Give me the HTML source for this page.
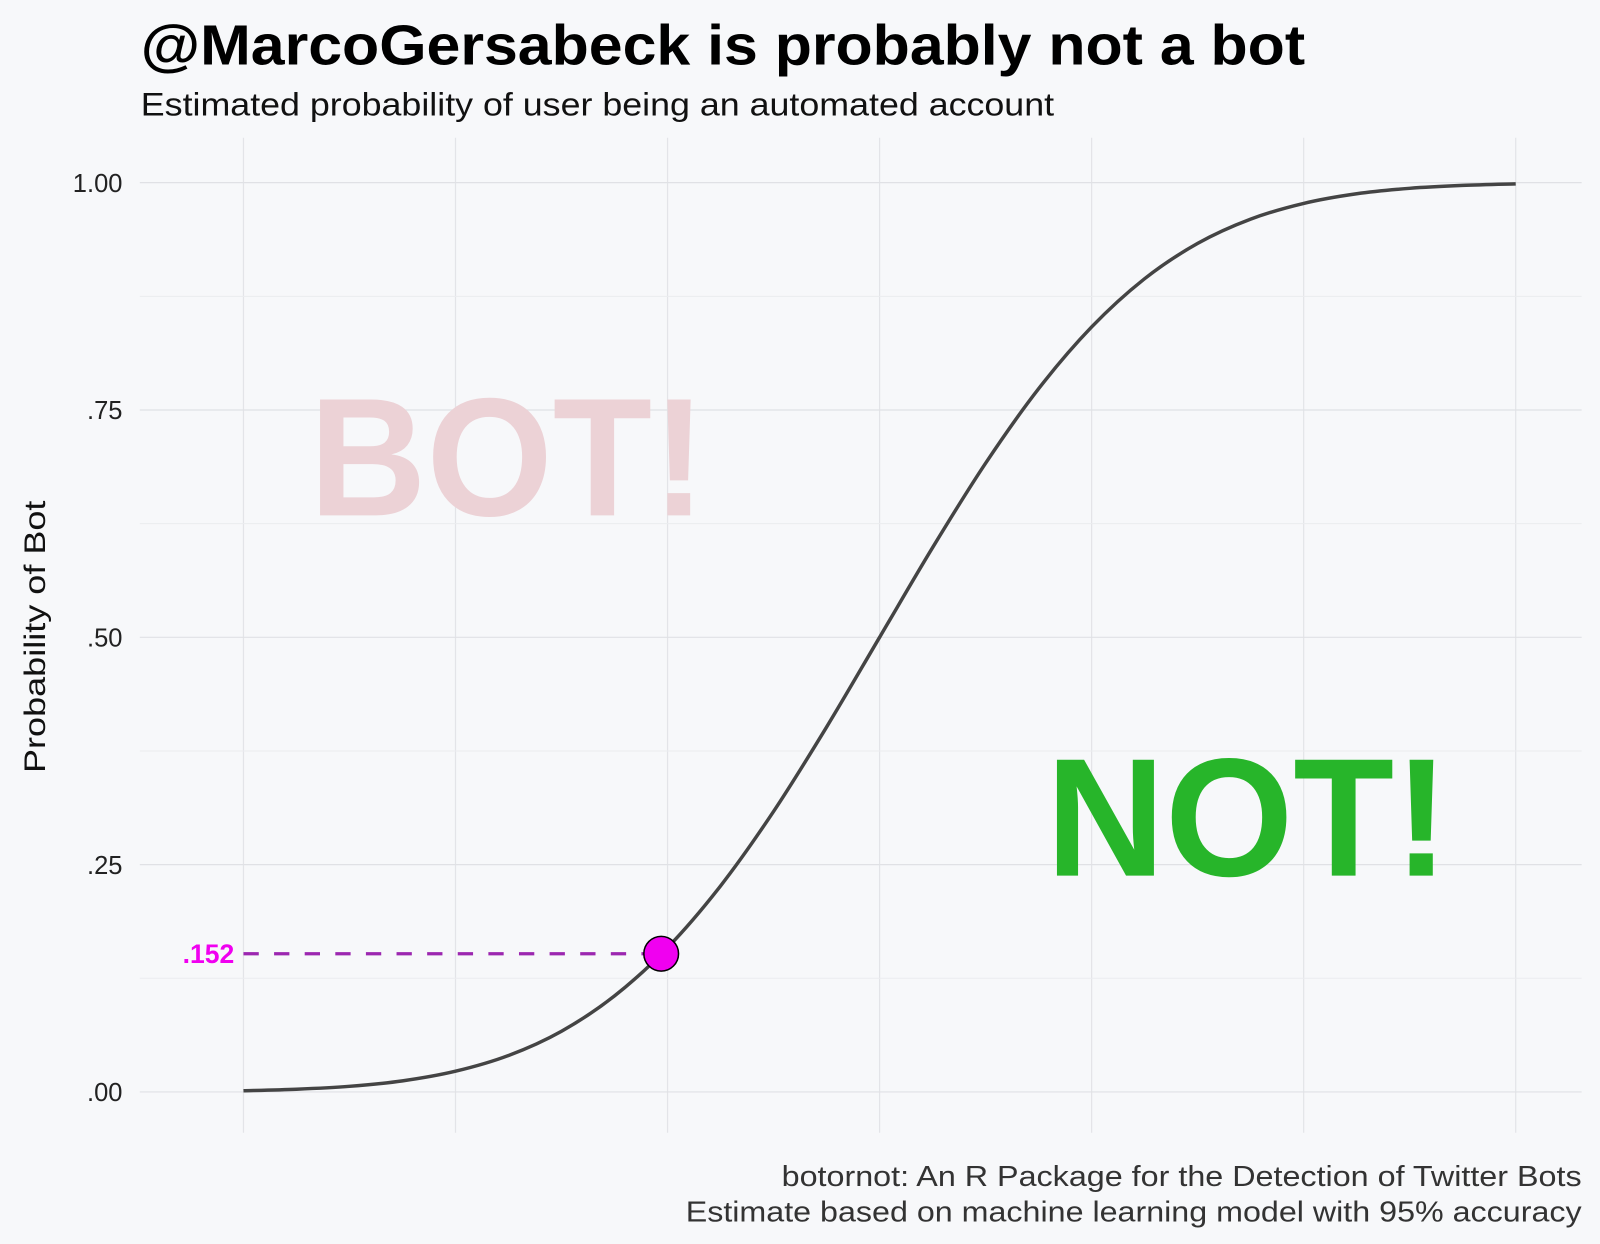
<!DOCTYPE html>
<html><head><meta charset="utf-8"><style>
html,body{margin:0;padding:0;background:#f7f8fa;}
svg{display:block;font-family:"Liberation Sans",Arial,sans-serif;}
</style></head><body>
<svg id="chart" width="1600" height="1244" viewBox="0 0 1568 1219" preserveAspectRatio="none">
<rect width="1568" height="1219" fill="#f7f8fa"/>
<g id="grid"></g>
<text x="138" y="63" font-size="55" font-weight="bold" fill="#000" textLength="1141" lengthAdjust="spacingAndGlyphs">@MarcoGersabeck is probably not a bot</text>
<text x="138" y="113" font-size="32" fill="#111" textLength="895" lengthAdjust="spacingAndGlyphs">Estimated probability of user being an automated account</text>
<text transform="translate(44,624) rotate(-90)" text-anchor="middle" font-size="29" fill="#111" textLength="267" lengthAdjust="spacingAndGlyphs">Probability of Bot</text>
<g id="yticks"></g>
<text x="303" y="505" font-size="165" font-weight="bold" fill="#ecd2d6" textLength="389" lengthAdjust="spacingAndGlyphs">BOT!</text>
<text x="1025" y="858" font-size="165" font-weight="bold" fill="#27b52a" textLength="395" lengthAdjust="spacingAndGlyphs">NOT!</text>
<g id="series"></g>
<text x="1550" y="1162" text-anchor="end" font-size="28" fill="#333" textLength="784" lengthAdjust="spacingAndGlyphs">botornot: An R Package for the Detection of Twitter Bots</text>
<text x="1550" y="1197" text-anchor="end" font-size="28" fill="#333" textLength="878" lengthAdjust="spacingAndGlyphs">Estimate based on machine learning model with 95% accuracy</text>
</svg>
<script>
const curveX = [-3,-2.75,-2.5,-2.25,-2,-1.75,-1.5,-1.25,-1,-0.75,-0.5,-0.25,0,0.25,0.5,0.75,1,1.25,1.5,1.75,2,2.25,2.5,2.75,3];
const curveY = [0.0013,0.0030,0.0062,0.0122,0.0228,0.0401,0.0668,0.1056,0.1587,0.2266,0.3085,0.4013,0.5,0.5987,0.6915,0.7734,0.8413,0.8944,0.9332,0.9599,0.9772,0.9878,0.9938,0.9970,0.9987];
const userX = [-1.03];
const userY = [0.152];
const userLabel = [".152"];
const yTicks = [0, 0.25, 0.5, 0.75, 1];
const yTickLabels = [".00", ".25", ".50", ".75", "1.00"];
const xGrid = [-3,-2,-1,0,1,2,3];

const NS = "http://www.w3.org/2000/svg";
const sx = v => 862 + v * 207.8;
const sy = v => 1070 - v * 891;
function mk(tag, attrs, parent){const e=document.createElementNS(NS,tag);for(const k in attrs)e.setAttribute(k,attrs[k]);parent.appendChild(e);return e;}
const grid=document.getElementById('grid'), yt=document.getElementById('yticks'), ser=document.getElementById('series');

xGrid.forEach(v=>{
  const l=mk('line',{x1:sx(v),x2:sx(v),y1:135,y2:1110,stroke:'#e3e4e8','stroke-width':1.2},grid);
  
  
});
for(let i=0;i<yTicks.length;i++){
  const l=mk('line',{x1:137,x2:1550,y1:sy(yTicks[i]),y2:sy(yTicks[i]),stroke:'#e0e1e5','stroke-width':1.2},grid);
  
  
  if(i<yTicks.length-1){
    const m=(yTicks[i]+yTicks[i+1])/2;
    const ml=mk('line',{x1:137,x2:1550,y1:sy(m),y2:sy(m),stroke:'#ebecef','stroke-width':1},grid);
    
    
  }
  const t=mk('text',{x:120,y:sy(yTicks[i])+9,'text-anchor':'end','font-size':25,fill:'#222'},yt);
  t.textContent=yTickLabels[i];
  
  
}
const pts=curveX.map((x,i)=>[sx(x),sy(curveY[i])]);
let d=`M${pts[0][0]},${pts[0][1]}`;
for(let i=0;i<pts.length-1;i++){
  const p0=pts[Math.max(0,i-1)],p1=pts[i],p2=pts[i+1],p3=pts[Math.min(pts.length-1,i+2)];
  const c1=[p1[0]+(p2[0]-p0[0])/6,p1[1]+(p2[1]-p0[1])/6];
  const c2=[p2[0]-(p3[0]-p1[0])/6,p2[1]-(p3[1]-p1[1])/6];
  d+=` C${c1[0]},${c1[1]} ${c2[0]},${c2[1]} ${p2[0]},${p2[1]}`;
}
const path=mk('path',{d:d,fill:'none',stroke:'#444','stroke-width':3.4},ser);



userX.forEach((x,i)=>{
  const dl=mk('line',{x1:sx(-3),x2:sx(x),y1:sy(userY[i]),y2:sy(userY[i]),stroke:'#9c27b0','stroke-width':3.2,'stroke-dasharray':'15,15'},ser);
  
  
  const c=mk('circle',{cx:sx(x),cy:sy(userY[i]),r:17,fill:'#f000f0',stroke:'#000','stroke-width':1.5},ser);
  
  
  const t=mk('text',{x:sx(-3)-9,y:sy(userY[i])+9,'text-anchor':'end','font-size':26,'font-weight':'bold',fill:'#f000f0'},ser);
  t.textContent=userLabel[i];
  
  
});
</script>
</body></html>
